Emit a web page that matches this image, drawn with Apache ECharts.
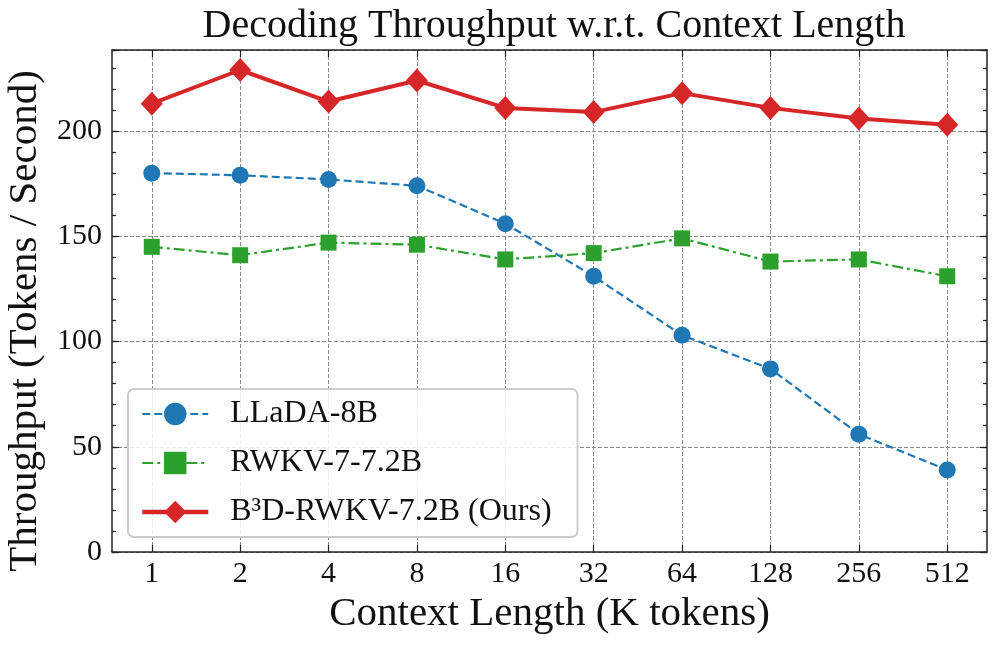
<!DOCTYPE html>
<html>
<head>
<meta charset="utf-8">
<script src="https://cdn.jsdelivr.net/npm/echarts@6/dist/echarts.min.js"></script>
<style>
  html, body { margin: 0; padding: 0; background: #fff; }
  #chart { width: 996px; height: 646px; }
</style>
</head>
<body>
<div id="chart"></div>
<script>
// context length in K tokens (log2 spaced, drawn as index positions)
const contextLabels = ["1", "2", "4", "8", "16", "32", "64", "128", "256", "512"];

const lladaValues = [180, 179, 177, 174, 156, 131, 103, 87, 56, 39];
const rwkvValues = [145, 141, 147, 146, 139, 142, 149, 138, 139, 131];
const oursValues = [213, 229, 214, 224, 211, 209, 218, 211, 206, 203];

const seriesNames = ["LLaDA-8B", "RWKV-7-7.2B", "B\u00b3D-RWKV-7.2B (Ours)"];

const FONT = "'Liberation Serif', 'DejaVu Serif', serif";
const tickIdx = contextLabels.map((_, i) => i);
const yMax = 238.5;

const toPoints = (vals) => vals.map((v, i) => [i, v]);

const chart = echarts.init(document.getElementById("chart"), null, { renderer: "canvas" });

const gridLine = { show: true, lineStyle: { color: "#8a8a8a", width: 1, type: [4, 2] } };
const frameLine = { show: true, onZero: false, lineStyle: { color: "#222", width: 1.5 } };

function xAxisDef(pos, withLabels) {
  return {
    type: "value",
    position: pos,
    min: -0.45,
    max: 9.45,
    axisLine: frameLine,
    axisTick: { show: true, inside: true, length: 7, customValues: tickIdx, lineStyle: { color: "#222", width: 1.2 } },
    axisLabel: {
      show: withLabels,
      customValues: tickIdx,
      formatter: (v) => contextLabels[Math.round(v)],
      fontFamily: FONT,
      fontSize: 30,
      color: "#111",
      margin: 7,
    },
    splitLine: withLabels ? gridLine : { show: false },
  };
}

function yAxisDef(pos, minor) {
  return {
    type: "value",
    position: pos,
    min: 0,
    max: yMax,
    interval: minor ? 10 : 50,
    axisLine: minor ? { show: false, onZero: false } : frameLine,
    axisTick: { show: true, inside: true, length: minor ? 4 : 7, lineStyle: { color: "#222", width: 1.2 } },
    axisLabel: {
      show: !minor && pos === "left",
      fontFamily: FONT,
      fontSize: 30,
      color: "#111",
      margin: 10,
      formatter: (v) => (v % 50 === 0 ? String(v) : ""),
    },
    splitLine: !minor && pos === "left" ? gridLine : { show: false },
  };
}

const option = {
  backgroundColor: "#fff",
  animation: false,
  title: {
    text: "Decoding Throughput w.r.t. Context Length",
    left: 549,
    textAlign: "center",
    top: 1,
    textStyle: { fontFamily: FONT, fontSize: 40, fontWeight: "normal", color: "#111" },
  },
  grid: { left: 112, right: 9, top: 50, bottom: 94, containLabel: false, outerBoundsMode: "none" },
  xAxis: [
    Object.assign(xAxisDef("bottom", true), {
      name: "Context Length (K tokens)",
      nameLocation: "middle",
      nameGap: 42,
      nameTextStyle: { fontFamily: FONT, fontSize: 41, color: "#111" },
    }),
    xAxisDef("top", false),
  ],
  yAxis: [
    Object.assign(yAxisDef("left", false), {
      name: "Throughput (Tokens / Second)",
      nameLocation: "middle",
      nameGap: 64,
      nameTextStyle: { fontFamily: FONT, fontSize: 41, color: "#111", padding: [0, 40, 0, 0] },
    }),
    yAxisDef("left", true),
    yAxisDef("right", false),
    yAxisDef("right", true),
  ],
  legend: {
    orient: "vertical",
    left: 128,
    top: 389,
    itemWidth: 66,
    itemHeight: 28,
    itemGap: 17,
    padding: [9, 26, 9, 12],
    backgroundColor: "rgba(255,255,255,0.85)",
    borderColor: "#cccccc",
    borderWidth: 2,
    borderRadius: 6,
    textStyle: { fontFamily: FONT, fontSize: 32, color: "#111", padding: [0, 0, 0, 17] },
    data: [
      { name: seriesNames[0], lineStyle: { width: 2 } },
      { name: seriesNames[1], lineStyle: { width: 2 } },
      { name: seriesNames[2], lineStyle: { width: 4.5 } },
    ],
  },
  series: [
    {
      name: seriesNames[0],
      type: "line",
      data: toPoints(lladaValues),
      symbol: "circle",
      symbolSize: 17,
      itemStyle: { color: "#1f77b4" },
      lineStyle: { color: "#1f77b4", width: 2.2, type: [8, 4] },
      z: 3,
    },
    {
      name: seriesNames[1],
      type: "line",
      data: toPoints(rwkvValues),
      symbol: "rect",
      symbolSize: 16,
      itemStyle: { color: "#2ca02c" },
      lineStyle: { color: "#2ca02c", width: 2.2, type: [11, 4, 3, 4] },
      z: 3,
    },
    {
      name: seriesNames[2],
      type: "line",
      data: toPoints(oursValues),
      symbol: "diamond",
      symbolSize: [22, 24],
      itemStyle: { color: "#d62728" },
      lineStyle: { color: "#d62728", width: 4 },
      z: 4,
    },
  ],
};

chart.setOption(option);
</script>
</body>
</html>
